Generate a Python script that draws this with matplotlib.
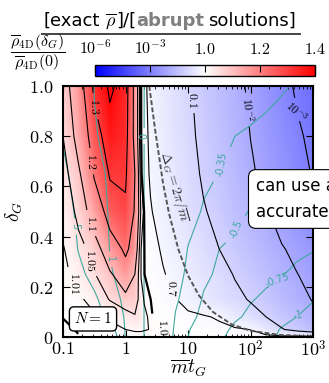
import numpy as np
import matplotlib
matplotlib.use("Agg")
import matplotlib.pyplot as plt
from matplotlib import colors
from matplotlib.lines import Line2D
from matplotlib.ticker import LogLocator, NullFormatter

plt.rcParams['mathtext.fontset'] = 'cm'
plt.rcParams['font.family'] = 'DejaVu Sans'

# map grid: log10(m t_G) columns, delta_G rows
log_mt_nodes = [-1, -0.75, -0.5, -0.25, 0, 0.15, 0.25, 0.3, 0.4, 0.6,
                0.8, 1.0, 1.25, 1.5, 1.75, 2.0, 2.25, 2.5, 2.75, 3.0]
delta_nodes = [0, 0.03, 0.08, 0.15, 0.25, 0.35, 0.5, 0.65, 0.8, 1.0]

# rho_4D(delta_G) / rho_4D(0)
ratio_rows = [
    [0.9995] * 20,
    [0.998, 1.001, 1.003, 1.006, 1.010, 1.014, 1.014, 1.012, 1.009, 1.005,
     1.001, 0.995, 0.96, 0.88, 0.80, 0.68, 0.30, 0.11, 0.055, 0.03],
    [1.0003, 1.002, 1.005, 1.012, 1.03, 1.045, 1.03, 1.015, 1.005, 0.97,
     0.90, 0.83, 0.76, 0.62, 0.34, 0.19, 0.10, 0.054, 0.030, 0.016],
    [1.002, 1.005, 1.024, 1.053, 1.08, 1.08, 1.02, 1.008, 1.002, 0.865,
     0.71, 0.51, 0.33, 0.21, 0.14, 0.087, 0.049, 0.028, 0.016, 0.009],
    [1.004, 1.022, 1.048, 1.092, 1.155, 1.10, 1.008, 1.003, 0.93, 0.74,
     0.53, 0.37, 0.23, 0.15, 0.091, 0.053, 0.031, 0.018, 0.0102, 0.0059],
    [1.008, 1.035, 1.073, 1.15, 1.22, 1.15, 1.01, 1.003, 0.88, 0.63,
     0.42, 0.28, 0.17, 0.10, 0.058, 0.034, 0.020, 0.011, 0.0066, 0.0039],
    [1.02, 1.065, 1.14, 1.25, 1.29, 1.19, 1.04, 0.998, 0.74, 0.46,
     0.30, 0.19, 0.11, 0.062, 0.035, 0.020, 0.011, 0.0056, 0.0028, 0.00135],
    [1.035, 1.09, 1.21, 1.31, 1.31, 1.20, 1.02, 0.90, 0.64, 0.40,
     0.25, 0.15, 0.083, 0.044, 0.023, 0.012, 0.0063, 0.0033, 0.0017, 0.00088],
    [1.05, 1.13, 1.26, 1.36, 1.33, 1.17, 1.005, 0.86, 0.60, 0.36,
     0.22, 0.13, 0.069, 0.036, 0.019, 0.0098, 0.0049, 0.0025, 0.00125, 0.00063],
    [1.07, 1.16, 1.325, 1.42, 1.34, 1.17, 1.003, 0.80, 0.56, 0.33,
     0.195, 0.115, 0.058, 0.0295, 0.015, 0.0074, 0.0035, 0.0016, 0.00076, 0.00035],
]

# second quantity drawn with teal contours
index_rows = [
    [10, 9.5, 9, 8, 0.7, 0.33, 0.093, -0.008, -0.086, -0.24,
     -0.39, -0.5, -0.62, -0.73, -0.8, -0.87, -0.95, -1.04, -1.12, -1.2],
    [10, 9, 8, 6.5, 0.66, 0.32, 0.09, -0.0076, -0.084, -0.236,
     -0.378, -0.489, -0.596, -0.7, -0.789, -0.864, -0.94, -1.015, -1.09, -1.165],
    [9.5, 8.5, 7, 3.33, 0.617, 0.298, 0.085, -0.007, -0.079, -0.221,
     -0.359, -0.453, -0.551, -0.637, -0.723, -0.797, -0.867, -0.936, -1.005, -1.08],
    [9, 8, 5.83, 1.67, 0.58, 0.28, 0.08, -0.0065, -0.071, -0.2,
     -0.33, -0.419, -0.515, -0.588, -0.662, -0.735, -0.8, -0.8625, -0.925, -0.9875],
    [8.2, 5.86, 3.48, 1.1, 0.547, 0.264, 0.075, -0.006, -0.063, -0.178,
     -0.293, -0.384, -0.469, -0.533, -0.585, -0.636, -0.688, -0.74, -0.81, -0.88],
    [6.9, 4.83, 2.75, 0.93, 0.5, 0.241, 0.069, -0.005, -0.056, -0.157,
     -0.259, -0.356, -0.428, -0.5, -0.539, -0.578, -0.617, -0.656, -0.695, -0.734],
    [6.4, 4.2, 1.98, 0.794, 0.426, 0.206, 0.059, -0.004, -0.045, -0.126,
     -0.208, -0.289, -0.369, -0.416, -0.462, -0.51, -0.56, -0.61, -0.66, -0.71],
    [5.57, 3.53, 1.49, 0.74, 0.397, 0.19, 0.055, -0.003, -0.035, -0.1,
     -0.164, -0.228, -0.308, -0.361, -0.385, -0.409, -0.433, -0.457, -0.481, -0.505],
    [4.78, 2.93, 1.07, 0.69, 0.372, 0.18, 0.051, -0.0024, -0.026, -0.074,
     -0.12, -0.168, -0.23, -0.29, -0.35, -0.376, -0.402, -0.428, -0.453, -0.479],
    [4.05, 2.46, 0.975, 0.667, 0.358, 0.173, 0.05, -0.0015, -0.016, -0.046,
     -0.076, -0.106, -0.143, -0.181, -0.218, -0.256, -0.293, -0.331, -0.377, -0.433],
]

black_levels = [1e-3, 1e-2, 0.1, 0.7, 1.0, 1.01, 1.05, 1.1, 1.2, 1.3, 1.4]
black_labels = [r'$10^{-3}$', r'$10^{-2}$', r'$0.1$', r'$0.7$', r'$1.0$', r'$1.01$',
                r'$1.05$', r'$1.1$', r'$1.2$', r'$1.3$', r'$1.4$']
black_label_pos = [(550, 0.896), (80, 0.905), (11.2, 0.944), (5.5, 0.195), (7.2, 0.04),
                   (0.156, 0.215), (0.27, 0.307), (0.283, 0.454), (0.283, 0.70), (0.3, 0.92)]

teal_levels = [-1, -0.75, -0.5, -0.35, 0, 1, 5]
teal_labels = ['-1', '-0.75', '-0.5', '-0.35', '0', '1', '5']
teal_label_pos = [(575, 0.096), (253, 0.267), (59, 0.43), (26, 0.69), (1.81, 0.80),
                  (0.53, 0.31), (0.135, 0.44)]

# dashed curve Delta_G = 2 pi / m
dash_mt = [2.4, 3, 4, 5, 7, 10, 15, 25, 50, 100, 300, 1000]
dash_delta = [1.0, 0.82, 0.61, 0.49, 0.35, 0.245, 0.165, 0.1, 0.05, 0.025, 0.008, 0.0025]

cbar_ticks = [1e-6, 1e-3, 1.0, 1.2, 1.4]
cbar_ticklabels = [r'$10^{-6}$', r'$10^{-3}$', r'$1.0$', r'$1.2$', r'$1.4$']

TEAL = '#3fa89e'
W, H = 329, 383


def fwd(v):
    v = np.asarray(v, dtype=float)
    return np.where(v < 1, np.log10(np.clip(v, 1e-12, None)) / 6.0, (v - 1) / 0.4)


def inv(u):
    u = np.asarray(u, dtype=float)
    return np.where(u < 0, 10.0 ** (6 * np.minimum(u, 0)), 1 + 0.4 * u)


norm = colors.FuncNorm((fwd, inv), vmin=1e-6, vmax=1.4)

mt = 10.0 ** np.array(log_mt_nodes)
MT, DL = np.meshgrid(mt, np.array(delta_nodes))
Z = np.array(ratio_rows)
T = np.array(index_rows)

fig = plt.figure(figsize=(W / 100, H / 100), dpi=100)
ax = fig.add_axes([63 / W, 1 - 337 / H, 250 / W, 251 / H])

mesh = ax.pcolormesh(MT, DL, Z, cmap='bwr', norm=norm, shading='gouraud', rasterized=True)

cs_t = ax.contour(MT, DL, T, levels=teal_levels, colors=TEAL, linewidths=0.8,
                  negative_linestyles='solid')
ax.clabel(cs_t, fmt=dict(zip(cs_t.levels, teal_labels)), fontsize=7,
          inline=True, manual=teal_label_pos)

log_levels = np.log10(black_levels)
widths = [1.6 if lv == 1.0 else 0.8 for lv in black_levels]
cs_b = ax.contour(MT, DL, np.log10(Z), levels=log_levels, colors='k', linewidths=widths,
                  negative_linestyles='solid')
ax.clabel(cs_b, fmt=dict(zip(cs_b.levels, black_labels)), fontsize=8.5,
          inline=True, manual=black_label_pos)

ax.plot(dash_mt, dash_delta, ls=(0, (2.5, 1.2)), color='#555555', lw=1.4)
ax.text(6.0, 0.60, r'$\Delta_G = 2\pi/\overline{m}$', rotation=-74, fontsize=10,
        color='#333333', ha='center', va='center')

ax.set_xscale('log')
ax.set_xlim(0.1, 1000)
ax.set_ylim(0, 1)
ax.set_xticks([0.1, 1, 10, 100, 1000])
ax.set_xticklabels([r'$0.1$', r'$1$', r'$10$', r'$10^2$', r'$10^3$'])
ax.xaxis.set_minor_locator(LogLocator(base=10, subs=np.arange(2, 10)))
ax.xaxis.set_minor_formatter(NullFormatter())
ax.set_yticks([0, 0.2, 0.4, 0.6, 0.8, 1.0])
ax.set_yticklabels([r'$0$', r'$0.2$', r'$0.4$', r'$0.6$', r'$0.8$', r'$1.0$'])
ax.tick_params(which='both', direction='in', top=True, right=True, labelsize=13)
ax.tick_params(which='major', length=5, width=0.8)
ax.tick_params(which='minor', length=2.5, width=0.6)
ax.tick_params(axis='x', pad=2)
ax.tick_params(axis='y', pad=7)
for sp in ax.spines.values():
    sp.set_linewidth(1.5)
ax.set_xlabel(r'$\overline{m}t_G$', fontsize=14, labelpad=-2)
ax.set_ylabel(r'$\delta_G$', fontsize=14, labelpad=3)

ax.text(0.12, 0.072, r'$N=1$', transform=ax.transAxes, fontsize=11,
        ha='center', va='center',
        bbox=dict(boxstyle='round,pad=0.3', fc='white', ec='k', lw=1))

# colour bar
cax = fig.add_axes([95 / W, 1 - 76 / H, 220 / W, 11 / H])
cb = fig.colorbar(mesh, cax=cax, orientation='horizontal')
cb.set_ticks(cbar_ticks)
cb.set_ticklabels(cbar_ticklabels)
cax.minorticks_off()
cax.xaxis.set_ticks_position('top')
cax.tick_params(direction='in', length=5, width=0.8, labelsize=11.5, pad=6)
cb.outline.set_linewidth(1.0)

fig.text(38 / W, 1 - 53 / H,
         r'$\dfrac{\overline{\rho}_{\mathrm{4D}}(\delta_G)}{\overline{\rho}_{\mathrm{4D}}(0)}$',
         fontsize=11.5, ha='center', va='center')

# title made of pieces so one word can be grey and bold
parts = [('[exact', {}), (' ', {}), (r'$\overline{\rho}$', {}), (']/[', {}),
         ('abrupt', {'color': '#808080', 'fontweight': 'bold'}), (' ', {}),
         ('solutions]', {})]
renderer = fig.canvas.get_renderer()
texts = [fig.text(0, 1 - 26 / H, s, fontsize=13, va='baseline', **kw) for s, kw in parts]
wids = []
for (s, kw), t in zip(parts, texts):
    if s == ' ':
        wids.append(4.5)
    else:
        wids.append(t.get_window_extent(renderer).width)
x0 = 170 - sum(wids) / 2
for t, w in zip(texts, wids):
    t.set_x(x0 / W)
    x0 += w
fig.add_artist(Line2D([42 / W, 300 / W], [1 - 34 / H] * 2, color='#444444', lw=1.4))

fig.text(256 / W, 1 - 199 / H, 'can use abrupt\naccurately', fontsize=12,
         ha='left', va='center', linespacing=1.55,
         bbox=dict(boxstyle='round,pad=0.45', fc='white', ec='k', lw=0.8))

fig.savefig('out.png', dpi=100)
